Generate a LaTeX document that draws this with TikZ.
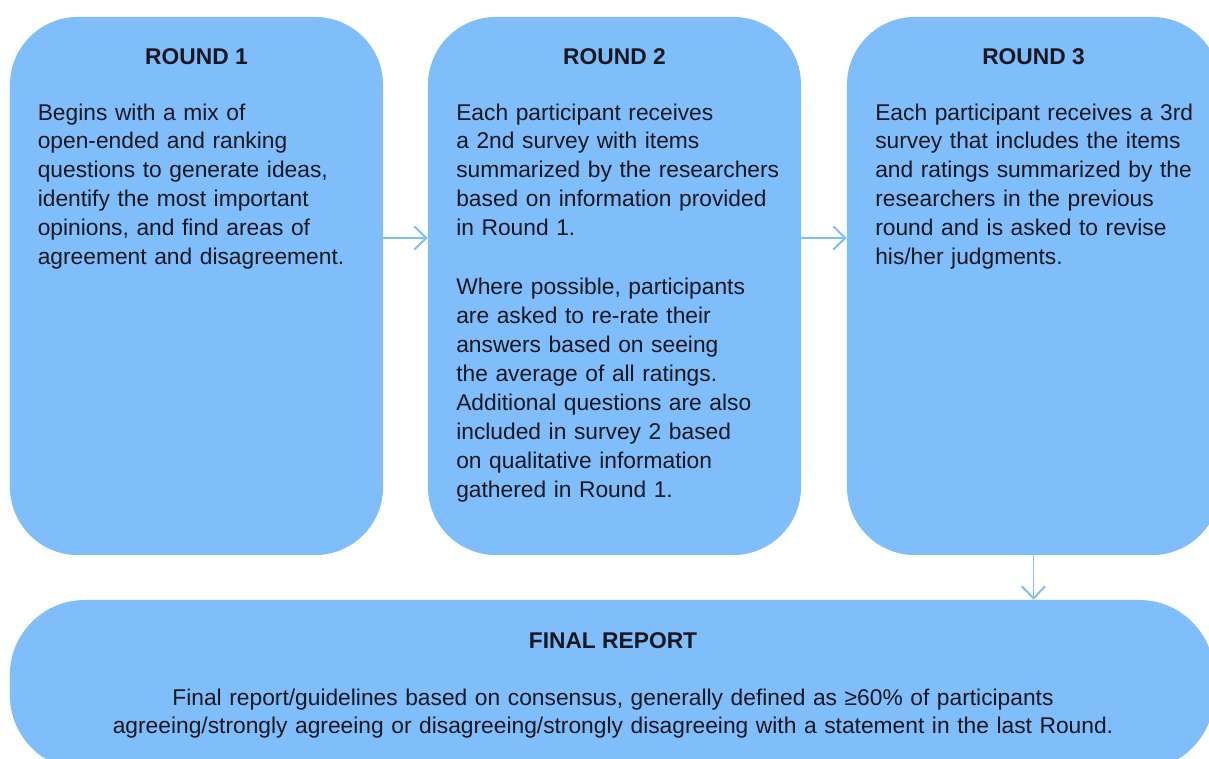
\documentclass[tikz,border=0pt]{standalone}
\usepackage{fontspec}
\setmainfont{Liberation Sans}
\usetikzlibrary{arrows.meta}
\definecolor{roundblue}{RGB}{128,189,251}
\definecolor{ink}{RGB}{22,24,32}
\tikzset{%
	link/.style={draw=roundblue, line width=1.4pt,
	-{Straight Barb[length=0.3cm,width=0.58cm]}}
}

\begin{document}
\begin{tikzpicture}[x=0.025cm, y=-0.025cm,
	stage/.style={rectangle, fill=roundblue, rounded corners=1.7cm,
		minimum width=9.325cm, minimum height=13.45cm, inner sep=0pt, name=#1},
	head/.style={font=\fontsize{16.2}{20.6}\selectfont\bfseries, text=ink,
		inner sep=0pt, anchor=base},
	body/.style={font=\fontsize{16.2}{20.6}\selectfont, text=ink, inner sep=0pt,
		anchor=base west, align=left, text width=8.6cm}]
				\useasboundingbox (0,0) rectangle (1209,758);
				\clip (0,0) rectangle (1209,758);
				\node [stage=r1] at (196.5,286) {};
				\node [stage=r2] at (614.5,286) {};
				\node [stage=r3] at (1033.5,286) {};
				\node [rectangle, fill=roundblue, rounded corners=1.875cm,
					minimum width=30.1cm, minimum height=4.25cm, name=fin] at (612,685) {};
				\node [head] (t1) at (196.5,64.5) {ROUND 1};
				\node [head] (t2) at (614.5,64.5) {ROUND 2};
				\node [head] (t3) at (1033.5,64.5) {ROUND 3};
				\node [head] (tf) at (613,648) {FINAL REPORT};
				\node [body] (b1) at (37.5,120) {Begins with a mix of\\
					open-ended and ranking\\ questions to generate ideas,\\
					identify the most important\\ opinions, and find areas of\\
					agreement and disagreement.};
				\node [body] (b2) at (456,120) {Each participant receives\\
					a 2nd survey with items\\ summarized by the researchers\\
					based on information provided\\ in Round 1.\\[0.75cm]
					Where possible, participants\\ are asked to re-rate their\\
					answers based on seeing\\ the average of all ratings.\\
					Additional questions are also\\ included in survey 2 based\\
					on qualitative information\\ gathered in Round 1.};
				\node [body] (b3) at (875,120) {Each participant receives a 3rd\\
					survey that includes the items\\ and ratings summarized by the\\
					researchers in the previous\\ round and is asked to revise\\
					his/her judgments.};
				\node [body, anchor=base, align=center, text width=30cm] (bf) at (613,705)
					{Final report/guidelines based on consensus, generally defined as ≥60\% of participants\\
					agreeing/strongly agreeing or disagreeing/strongly disagreeing with a statement in the last Round.};
				\draw [link] ([yshift=1.2cm]r1.east) -- ([yshift=1.2cm]r2.west);
				\draw [link] ([yshift=1.2cm]r2.east) -- ([yshift=1.2cm]r3.west);
				\draw [link] (r3.south) -- (r3.south |- fin.north);
			\end{tikzpicture}
\end{document}
